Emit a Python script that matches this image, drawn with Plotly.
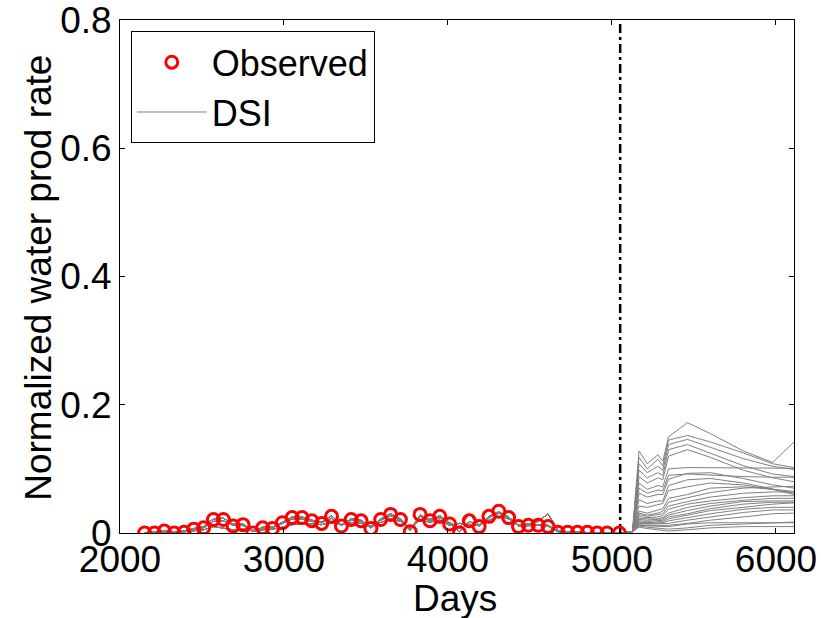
import plotly.graph_objects as go

# ---------------- data ----------------
days_hist = [2150, 2210, 2270, 2330, 2390, 2450, 2510, 2570, 2630, 2690,
             2750, 2810, 2870, 2930, 2990, 3050, 3110, 3170, 3230, 3290,
             3350, 3410, 3470, 3530, 3590, 3650, 3710, 3770, 3830, 3890,
             3950, 4010, 4070, 4130, 4190, 4250, 4310, 4370, 4430, 4490,
             4550, 4610, 4670, 4730, 4790, 4850, 4910, 4970, 5045]

observed = [0.000, 0.000, 0.003, 0.000, 0.001, 0.006, 0.008, 0.021, 0.021, 0.011,
            0.013, 0.000, 0.008, 0.007, 0.016, 0.024, 0.024, 0.019, 0.015, 0.026,
            0.011, 0.021, 0.019, 0.007, 0.021, 0.029, 0.021, 0.002, 0.029, 0.019,
            0.026, 0.014, 0.000, 0.019, 0.010, 0.026, 0.034, 0.024, 0.010, 0.012,
            0.012, 0.010, 0.001, 0.001, 0.001, 0.001, 0.000, 0.000, 0.000]

dsi_hist_a = [0.000, 0.001, 0.002, 0.001, 0.002, 0.005, 0.008, 0.018, 0.019, 0.012,
              0.012, 0.002, 0.007, 0.008, 0.015, 0.022, 0.022, 0.018, 0.016, 0.023,
              0.012, 0.020, 0.018, 0.008, 0.020, 0.027, 0.020, 0.004, 0.026, 0.019,
              0.024, 0.014, 0.002, 0.018, 0.011, 0.024, 0.031, 0.023, 0.011, 0.012,
              0.012, 0.011, 0.002, 0.001, 0.001, 0.001, 0.000, 0.000, 0.000]
dsi_hist_b = [0.000, 0.000, 0.001, 0.001, 0.002, 0.003, 0.005, 0.010, 0.008, 0.005,
              0.006, 0.004, 0.005, 0.006, 0.009, 0.013, 0.015, 0.014, 0.013, 0.016,
              0.013, 0.016, 0.015, 0.011, 0.016, 0.022, 0.018, 0.008, 0.020, 0.017,
              0.020, 0.012, 0.015, 0.014, 0.012, 0.020, 0.026, 0.022, 0.012, 0.014,
              0.018, 0.030, 0.004, 0.002, 0.001, 0.001, 0.000, 0.000, 0.000]
dsi_hist_c = [0.000, 0.001, 0.003, 0.002, 0.003, 0.007, 0.010, 0.022, 0.023, 0.014,
              0.014, 0.003, 0.009, 0.009, 0.017, 0.025, 0.025, 0.020, 0.017, 0.027,
              0.013, 0.022, 0.020, 0.009, 0.022, 0.030, 0.022, 0.005, 0.028, 0.021,
              0.027, 0.016, 0.008, 0.030, 0.012, 0.026, 0.033, 0.025, 0.012, 0.014,
              0.013, 0.012, 0.003, 0.002, 0.001, 0.001, 0.000, 0.000, 0.000]
dsi_hist_variants = [dsi_hist_a, dsi_hist_b, dsi_hist_c]

days_fcst = [5125, 5165, 5215, 5280, 5310, 5345, 5460, 5600, 5800, 5980, 6110]
dsi_fcst = [
    [0.002, 0.128, 0.108, 0.122, 0.112, 0.150, 0.172, 0.155, 0.128, 0.110, 0.142],
    [0.002, 0.118, 0.100, 0.115, 0.105, 0.145, 0.152, 0.142, 0.125, 0.108, 0.102],
    [0.002, 0.108, 0.094, 0.104, 0.098, 0.138, 0.146, 0.134, 0.116, 0.104, 0.099],
    [0.002, 0.098, 0.086, 0.094, 0.090, 0.130, 0.138, 0.124, 0.105, 0.092, 0.088],
    [0.002, 0.088, 0.078, 0.086, 0.083, 0.120, 0.130, 0.118, 0.098, 0.086, 0.080],
    [0.002, 0.078, 0.068, 0.074, 0.072, 0.100, 0.102, 0.102, 0.101, 0.101, 0.101],
    [0.002, 0.070, 0.062, 0.067, 0.066, 0.090, 0.092, 0.090, 0.088, 0.087, 0.087],
    [0.002, 0.062, 0.056, 0.060, 0.060, 0.084, 0.093, 0.094, 0.085, 0.075, 0.070],
    [0.002, 0.052, 0.046, 0.050, 0.050, 0.074, 0.083, 0.085, 0.078, 0.069, 0.062],
    [0.002, 0.042, 0.040, 0.044, 0.046, 0.066, 0.072, 0.078, 0.075, 0.068, 0.060],
    [0.002, 0.034, 0.031, 0.035, 0.038, 0.054, 0.060, 0.070, 0.072, 0.068, 0.065],
    [0.002, 0.031, 0.028, 0.031, 0.034, 0.048, 0.055, 0.063, 0.070, 0.072, 0.073],
    [0.002, 0.029, 0.026, 0.028, 0.030, 0.042, 0.049, 0.056, 0.062, 0.064, 0.064],
    [0.002, 0.026, 0.024, 0.025, 0.027, 0.037, 0.045, 0.050, 0.055, 0.058, 0.058],
    [0.002, 0.023, 0.022, 0.022, 0.024, 0.031, 0.040, 0.046, 0.051, 0.054, 0.054],
    [0.002, 0.021, 0.020, 0.021, 0.022, 0.028, 0.035, 0.042, 0.049, 0.050, 0.050],
    [0.002, 0.019, 0.018, 0.019, 0.020, 0.025, 0.030, 0.038, 0.045, 0.048, 0.048],
    [0.002, 0.017, 0.016, 0.017, 0.018, 0.022, 0.028, 0.035, 0.040, 0.045, 0.047],
    [0.002, 0.016, 0.015, 0.015, 0.016, 0.019, 0.024, 0.030, 0.037, 0.040, 0.040],
    [0.002, 0.015, 0.014, 0.014, 0.014, 0.015, 0.020, 0.025, 0.032, 0.036, 0.036],
    [0.002, 0.013, 0.012, 0.012, 0.012, 0.012, 0.015, 0.020, 0.025, 0.030, 0.031],
    [0.002, 0.012, 0.011, 0.010, 0.010, 0.010, 0.014, 0.016, 0.016, 0.016, 0.016],
    [0.002, 0.011, 0.009, 0.008, 0.007, 0.006, 0.008, 0.012, 0.014, 0.016, 0.017],
    [0.002, 0.009, 0.007, 0.005, 0.004, 0.003, 0.005, 0.008, 0.010, 0.010, 0.010],
]

forecast_start = 5050
x_range = [2000, 6110]
y_range = [0, 0.8]
x_ticks = [2000, 3000, 4000, 5000, 6000]
y_ticks = [0, 0.2, 0.4, 0.6, 0.8]
y_ticktext = ["0", "0.2", "0.4", "0.6", "0.8"]
x_title = "Days"
y_title = "Normalized water prod rate"

# ---------------- figure ----------------
FONT = "Arial, Liberation Sans, sans-serif"
FS = 37
fig = go.Figure()

for i, fc in enumerate(dsi_fcst):
    hist = dsi_hist_variants[i % 3]
    fig.add_trace(go.Scatter(
        x=days_hist + days_fcst, y=hist + fc, mode="lines",
        line=dict(color="rgb(128,128,128)", width=1),
        name="DSI", legendgroup="dsi", showlegend=(i == 0), legendrank=2,
        hoverinfo="skip"))

fig.add_trace(go.Scatter(
    x=[forecast_start, forecast_start], y=y_range, mode="lines",
    line=dict(color="black", width=2.5, dash="9px,4px,3px,4px"),
    showlegend=False, hoverinfo="skip"))

fig.add_trace(go.Scatter(
    x=days_hist, y=observed, mode="markers", name="Observed",
    marker=dict(symbol="circle-open", size=12, color="red",
                line=dict(width=3, color="red")),
    legendrank=1))

axis_common = dict(showline=True, linecolor="black", linewidth=1, mirror="ticks",
                   ticks="inside", ticklen=5, tickcolor="black", showgrid=False,
                   zeroline=False, automargin=False, ticklabeloverflow="allow",
                   tickfont=dict(family=FONT, size=FS, color="black"))

fig.update_layout(
    width=830, height=618,
    margin=dict(l=120, r=36, t=20, b=85),
    paper_bgcolor="white", plot_bgcolor="white",
    font=dict(family=FONT, size=FS, color="black"),
    xaxis=dict(range=x_range, tickvals=x_ticks, ticklabelstandoff=-6, **axis_common),
    yaxis=dict(range=y_range, tickvals=y_ticks, ticktext=y_ticktext, **axis_common),
    legend=dict(x=0.016, y=0.978, xanchor="left", yanchor="top",
                bgcolor="white", bordercolor="black", borderwidth=1,
                font=dict(family=FONT, size=36), itemwidth=70,
                tracegroupgap=0),
    showlegend=True,
    annotations=[
        dict(text=x_title, xref="paper", yref="paper", x=0.497, y=-0.128,
             xanchor="center", yanchor="middle", showarrow=False,
             font=dict(family=FONT, size=FS, color="black")),
        dict(text=y_title, xref="paper", yref="paper", x=-0.122, y=0.497,
             xanchor="center", yanchor="middle", showarrow=False, textangle=-90,
             font=dict(family=FONT, size=FS, color="black")),
    ],
)

fig.write_html("out.html")
